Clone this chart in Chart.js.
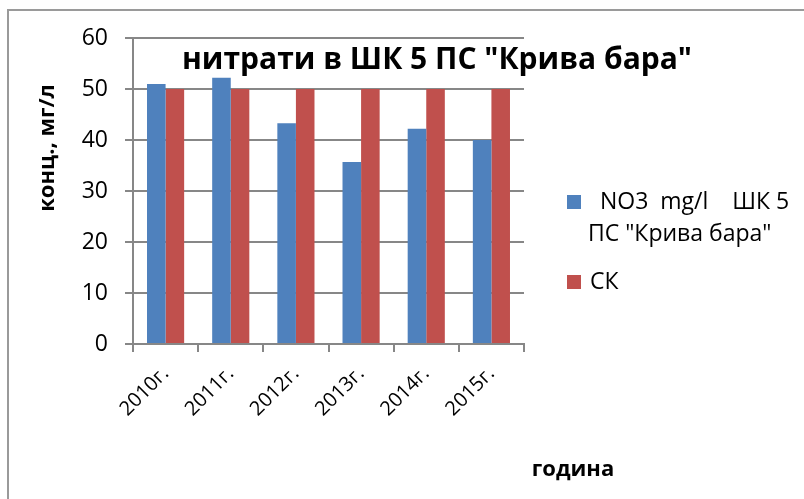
<!DOCTYPE html>
<html>
<head>
<meta charset="utf-8">
<script src="https://cdn.jsdelivr.net/npm/chart.js@4/dist/chart.umd.min.js"></script>
<style>
  html, body { margin: 0; padding: 0; background: #fff; }
  #wrap { width: 804px; height: 499px; }
</style>
</head>
<body>
<div id="wrap"><canvas id="nitrateChart" width="804" height="499"></canvas></div>
<script>
// Data
const years = ["2010г.", "2011г.", "2012г.", "2013г.", "2014г.", "2015г."];
const no3Values = [51.0, 52.2, 43.3, 35.7, 42.2, 40.0];
const skValues = [50, 50, 50, 50, 50, 50];
const seriesLabels = ['  NO3  mg/l    ШК 5 ПС "Крива бара"', "СК"];
const chartTitle = 'нитрати в ШК 5 ПС "Крива бара"';
const yTitle = "конц., мг/л";
const xTitle = "година";

const FONT = '"Open Sans", "Noto Sans", sans-serif';
const GRID = "#878787";

// Excel-like frame, title, axis titles and legend drawn by hand
const decorPlugin = {
  id: "decor",
  beforeDraw(chart) {
    const c = chart.ctx;
    c.save();
    c.strokeStyle = "#9a9a9a";
    c.lineWidth = 2;
    c.beginPath();
    c.moveTo(8, 499);
    c.lineTo(8, 10);
    c.lineTo(804, 10);
    c.stroke();
    c.restore();
  },
  afterDraw(chart) {
    const c = chart.ctx;
    c.save();
    c.fillStyle = "#000";
    c.textBaseline = "middle";

    // title sits over the plot
    c.font = "bold 30px " + FONT;
    c.textAlign = "center";
    c.fillText(chartTitle, 437, 60);

    // axis titles
    c.font = "bold 22px " + FONT;
    c.fillText(xTitle, 573, 470);
    c.save();
    c.translate(48, 148);
    c.rotate(-Math.PI / 2);
    c.fillText(yTitle, 0, 0);
    c.restore();

    // legend
    c.textAlign = "left";
    c.font = "23px " + FONT;
    const ds = chart.data.datasets;
    const blocks = [
      { y: 202, lines: ["NO3  mg/l    ШК 5", 'ПС "Крива бара"'], x0: [600, 588] },
      { y: 282, lines: [ds[1].label], x0: [590] },
    ];
    blocks.forEach((b, i) => {
      c.fillStyle = ds[i].backgroundColor;
      c.fillRect(567, b.y - 7, 14, 14);
      c.fillStyle = "#000";
      b.lines.forEach((t, j) => c.fillText(t, b.x0[j], b.y + j * 32));
    });
    c.restore();
  },
};

const ctx = document.getElementById("nitrateChart").getContext("2d");
const nitrateChart = new Chart(ctx, {
  type: "bar",
  data: {
    labels: years,
    datasets: [
      {
        label: seriesLabels[0],
        data: no3Values,
        backgroundColor: "#4F81BD",
        categoryPercentage: 0.57,
        barPercentage: 1.0,
      },
      {
        label: seriesLabels[1],
        data: skValues,
        backgroundColor: "#C0504D",
        categoryPercentage: 0.57,
        barPercentage: 1.0,
      },
    ],
  },
  options: {
    responsive: false,
    animation: false,
    layout: { padding: { top: 38, right: 280, bottom: 0, left: 0 } },
    plugins: {
      legend: { display: false },
      title: { display: false },
      tooltip: { enabled: false },
    },
    scales: {
      x: {
        afterFit(scale) { scale.height = 155; },
        grid: {
          offset: true,
          drawOnChartArea: false,
          color: GRID,
          lineWidth: 2,
          tickLength: 8,
        },
        border: { color: GRID, width: 2 },
        ticks: {
          color: "#000",
          font: { family: FONT, size: 20 },
          minRotation: 45,
          maxRotation: 45,
          padding: 10,
        },
      },
      y: {
        min: 0,
        max: 60,
        afterFit(scale) { scale.width = 133; },
        grid: { color: GRID, lineWidth: 2, tickLength: 8 },
        border: { color: GRID, width: 2 },
        ticks: {
          stepSize: 10,
          color: "#000",
          font: { family: FONT, size: 23 },
          padding: 17,
        },
      },
    },
  },
  plugins: [decorPlugin],
});
</script>
</body>
</html>
